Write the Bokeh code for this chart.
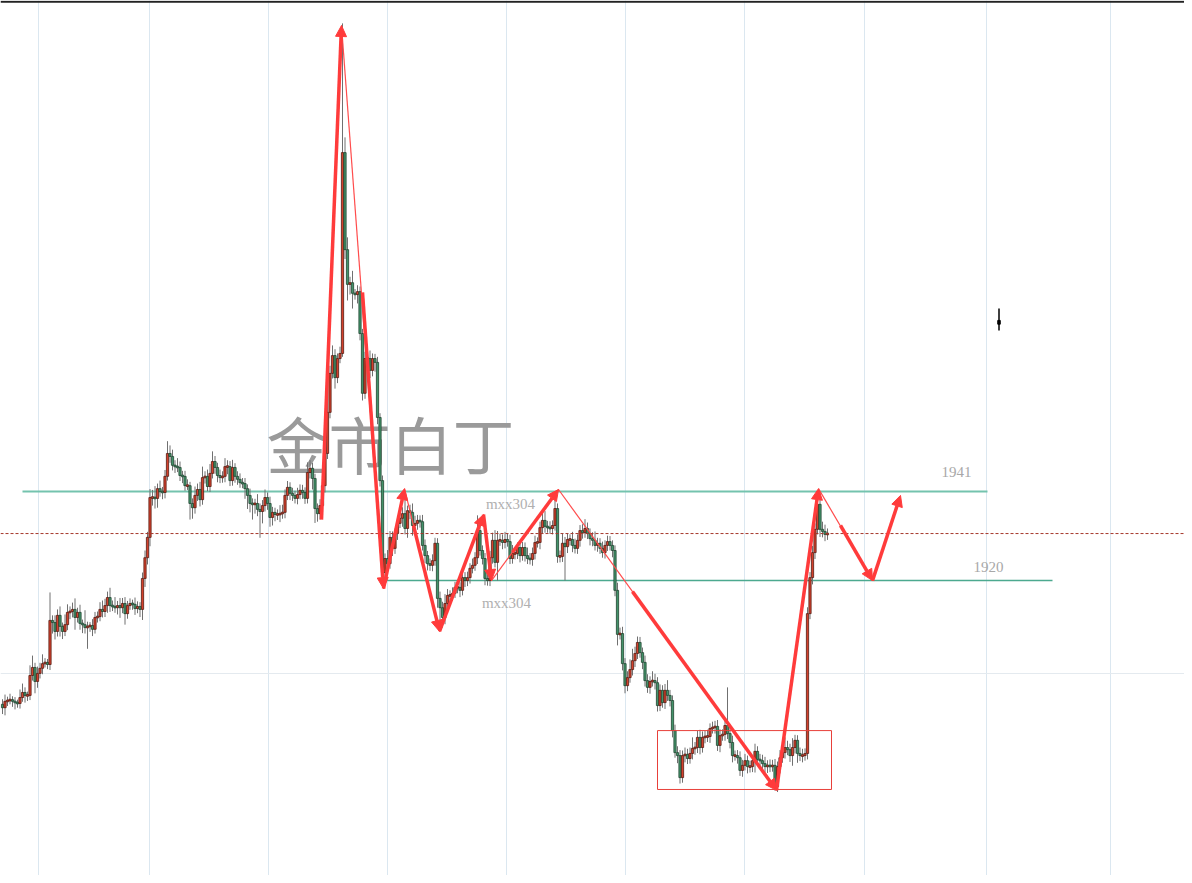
from bokeh.plotting import figure
from bokeh.models import Range1d, FixedTicker, Span, Arrow, NormalHead, ColumnDataSource
from bokeh.core.properties import value
from bokeh.embed import file_html
from bokeh.resources import INLINE

# ---------------- data (price units, one candle per index) ----------------
first_open = 1890.8

closes = [
    # segment A
    1890.0, 1891.5, 1891.7, 1891.9, 1891.5, 1891.2, 1891.0, 1892.4, 1893.6, 1892.9,
    1892.9, 1897.6, 1899.5, 1896.2, 1898.1, 1899.3, 1900.4, 1900.7, 1900.2, 1910.6,
    1910.1, 1908.0, 1911.8, 1909.2, 1908.0, 1909.6, 1912.5, 1912.7, 1913.2, 1911.3,
    1912.5, 1909.9, 1909.6, 1908.9, 1909.2, 1909.4, 1908.5, 1911.3, 1911.5, 1913.2,
    1912.7, 1914.1, 1916.0, 1914.1, 1913.9, 1913.6, 1914.1, 1913.6, 1914.6, 1912.2,
    1914.1, 1914.6, 1914.4, 1913.4, 1913.9, 1913.2, 1920.5, 1925.4, 1930.2, 1939.6,
    1939.6, 1939.4, 1941.7, 1941.0, 1940.8, 1944.6, 1950.0, 1949.3,
    # segment B
    1947.2, 1946.9, 1946.7, 1944.8, 1944.6, 1942.4, 1942.4, 1938.2, 1937.2, 1940.1,
    1941.5, 1939.1, 1944.3, 1944.6, 1942.2, 1945.3, 1948.1, 1946.7, 1944.8, 1944.3,
    1944.6, 1946.9, 1946.9, 1943.6, 1946.7, 1944.6, 1943.9, 1943.1, 1942.9,
    1941.7, 1940.1, 1938.2, 1938.0, 1938.2, 1936.8, 1936.3, 1937.7, 1939.6, 1938.2,
    1934.9, 1936.1, 1935.6, 1935.6, 1935.8, 1936.1, 1940.1, 1942.0, 1940.6, 1940.1,
    1939.4, 1940.3, 1941.3, 1940.8, 1939.4, 1945.5, 1946.5, 1944.1, 1937.0, 1935.8,
    1937.7, 1942.4, 1950.0, 1959.7,
    # segment C (spike)
    1968.9, 1973.1, 1967.9, 1972.4, 1973.6, 2021.0, 1998.1, 1989.9, 1990.3, 1987.8,
    1987.5, 1988.2, 1978.3, 1964.2, 1972.4, 1972.4, 1969.6, 1972.4, 1971.5, 1958.5,
    1943.6, 1921.9,
    # segment D (range)
    1925.2, 1924.0, 1930.2, 1927.6, 1931.1, 1933.5, 1934.7, 1935.8, 1932.3, 1936.5,
    1936.1, 1933.0, 1933.5, 1934.2, 1933.9, 1928.3, 1925.9, 1924.0, 1923.6, 1924.7,
    1928.8, 1915.8, 1913.6, 1911.3, 1914.6, 1916.5, 1916.5, 1917.0, 1918.4, 1918.4,
    1917.7, 1920.7, 1920.0, 1920.7, 1922.9, 1923.6, 1925.4, 1931.8, 1927.1, 1925.2,
    1920.5, 1920.0, 1925.4, 1929.5, 1924.3, 1929.5, 1929.5, 1929.0, 1929.7, 1929.2,
    1925.2, 1926.4, 1926.4, 1927.8, 1925.9, 1927.8, 1925.9, 1925.2, 1925.0, 1926.4,
    1929.0, 1929.0, 1932.5, 1934.2, 1932.8, 1932.5, 1932.3, 1933.0, 1937.0, 1925.7,
    1925.7, 1928.8, 1928.0, 1929.7, 1929.7, 1928.3, 1927.6, 1929.5, 1931.8, 1931.3,
    1932.3, 1931.1, 1929.9, 1929.5, 1928.3, 1928.8, 1927.6, 1926.6, 1928.3, 1929.2,
    1928.3, 1927.1,
    # segment E (drop, base, rally)
    1917.7, 1907.3, 1907.5, 1900.4, 1895.2, 1897.1, 1899.0, 1901.1, 1902.8, 1905.4,
    1903.0, 1900.7, 1896.4, 1894.8, 1896.2, 1896.4, 1895.9, 1890.5, 1894.1, 1891.2,
    1894.1, 1892.9, 1891.7, 1884.6, 1879.4, 1878.7, 1873.5, 1878.7, 1879.0, 1878.0,
    1879.2, 1880.4, 1880.6, 1883.0, 1880.6, 1883.0, 1883.2, 1883.2, 1885.1, 1885.3,
    1885.6, 1881.1, 1883.4, 1883.7, 1885.8, 1883.9, 1881.8, 1878.7, 1878.7, 1878.2,
    1875.2, 1876.4, 1877.5, 1876.1, 1876.1, 1877.5, 1879.7, 1877.8, 1877.5, 1876.8,
    1876.1, 1876.4, 1876.1, 1876.4, 1871.4, 1876.1, 1878.2, 1879.4, 1880.6, 1880.1,
    1878.7, 1880.6, 1882.3, 1879.2, 1878.7, 1878.7, 1879.2, 1912.2, 1920.7, 1926.6,
    1932.1, 1938.0, 1932.1, 1931.6, 1930.9, 1931.1,
]

hi_wick = [
    1.2, 1.6, 0.9, 1.4, 0.8, 1.0, 0.7, 1.9, 2.1, 1.2,
    0.9, 2.4, 2.8, 1.1, 1.6, 1.3, 2.2, 1.0, 0.8, 6.6,
    1.2, 1.7, 1.4, 2.1, 0.9, 2.4, 1.9, 1.2, 1.6, 2.6,
    1.1, 1.8, 0.9, 3.4, 1.1, 0.8, 1.5, 1.3, 1.2, 1.7,
    2.1, 1.6, 1.4, 2.3, 1.2, 2.2, 1.1, 1.8, 1.3, 1.5,
    1.1, 1.2, 0.9, 1.6, 1.2, 1.0, 1.4, 1.7, 1.3, 2.0,
    1.8, 2.7, 1.2, 1.9, 1.1, 1.5, 2.9, 1.9,
    1.6, 1.2, 2.0, 1.4, 1.1, 1.3, 1.5, 0.9, 1.2, 2.1,
    1.4, 1.8, 2.6, 1.2, 1.6, 2.2, 2.4, 1.3, 1.1, 1.4,
    1.2, 2.0, 1.5, 1.3, 1.8, 1.0, 1.2, 1.4, 1.1,
    1.3, 1.0, 1.6, 1.2, 1.1, 2.2, 1.4, 1.3, 1.9, 1.2,
    1.6, 1.3, 1.1, 1.2, 2.0, 1.8, 1.4, 1.5, 1.2, 1.3,
    1.1, 1.6, 1.4, 1.3, 1.2, 2.4, 1.9, 1.3, 1.1, 1.2,
    1.5, 2.2, 1.8, 2.6,
    1.8, 2.4, 1.5, 1.2, 1.6, 30.5, 3.6, 2.9, 1.4, 2.8,
    1.0, 1.5, 1.2, 1.1, 1.6, 1.4, 1.9, 1.2, 1.1, 1.3,
    1.0, 1.2,
    1.2, 2.0, 1.5, 1.4, 1.2, 1.8, 2.4, 1.5, 3.4, 1.2,
    1.4, 2.1, 1.8, 1.3, 1.2, 1.6, 1.4, 1.1, 1.2, 1.5,
    1.3, 1.2, 1.6, 1.4, 2.2, 1.5, 1.2, 1.4, 1.3, 1.6,
    1.2, 1.5, 1.3, 1.4, 1.2, 1.6, 1.3, 3.6, 1.4, 1.2,
    1.3, 1.2, 1.6, 1.8, 2.4, 2.2, 1.6, 1.4, 1.8, 1.3,
    1.6, 2.0, 1.4, 1.2, 1.5, 1.3, 1.2, 1.9, 1.3, 1.4,
    1.6, 1.2, 1.4, 1.8, 2.2, 1.3, 1.5, 1.2, 2.0, 1.2,
    1.4, 2.2, 1.5, 1.3, 1.2, 1.8, 1.6, 1.4, 1.3, 1.5,
    2.2, 1.4, 1.2, 1.5, 2.1, 1.3, 1.2, 1.6, 1.2, 1.4,
    1.3, 1.2,
    1.2, 1.8, 1.4, 1.6, 1.3, 1.5, 2.4, 2.8, 1.6, 1.4,
    1.3, 1.2, 1.6, 1.5, 1.2, 2.2, 1.6, 1.3, 1.4, 1.2,
    1.5, 2.4, 1.3, 1.2, 1.4, 1.5, 1.3, 1.2, 1.6, 1.3,
    1.4, 2.6, 1.3, 1.5, 1.8, 1.4, 1.3, 1.6, 1.2, 1.4,
    1.3, 1.5, 1.5, 1.2, 1.8, 9.0, 1.4, 1.6, 1.2, 1.3,
    1.5, 1.3, 1.6, 1.2, 1.4, 1.3, 1.8, 1.2, 1.3, 1.4,
    1.6, 1.2, 1.4, 1.3, 1.5, 1.2, 1.8, 1.3, 2.4, 1.6,
    1.4, 2.2, 1.3, 1.2, 1.4, 1.6, 1.2, 1.5, 1.3, 1.6,
    1.4, 2.6, 3.0, 1.8, 1.6, 1.2,
]

lo_wick = [
    1.5, 1.8, 1.1, 0.9, 1.3, 1.6, 1.0, 1.2, 1.0, 1.7,
    1.3, 1.1, 1.2, 2.8, 1.5, 1.2, 1.4, 0.9, 1.1, 1.3,
    2.6, 1.9, 1.2, 2.4, 1.8, 1.1, 1.3, 1.6, 1.4, 2.9,
    1.2, 1.5, 2.0, 1.4, 5.0, 1.3, 1.6, 1.0, 1.2, 1.1,
    1.4, 1.3, 1.7, 1.5, 1.1, 1.2, 1.6, 2.4, 1.3, 2.6,
    1.2, 1.0, 1.3, 1.5, 1.1, 1.8, 2.5, 2.0, 1.6, 2.1,
    1.9, 2.4, 2.2, 1.2, 1.6, 1.4, 1.0, 1.5,
    1.2, 1.5, 1.1, 1.3, 1.6, 1.2, 1.0, 3.8, 2.6, 1.4,
    1.3, 1.6, 1.2, 1.4, 1.1, 1.3, 1.2, 1.5, 1.6, 1.3,
    1.2, 1.4, 1.8, 1.3, 1.2, 1.5, 1.3, 1.2, 1.1,
    2.4, 3.2, 2.1, 3.6, 2.2, 1.6, 6.2, 2.8, 1.4, 1.5,
    2.2, 1.9, 1.6, 1.3, 1.8, 1.2, 1.4, 1.1, 1.6, 1.3,
    1.2, 1.4, 1.1, 1.5, 1.3, 1.2, 1.4, 2.6, 3.4, 1.9,
    1.4, 1.2, 1.6, 1.3,
    1.4, 1.2, 2.6, 1.3, 1.1, 0.8, 2.2, 3.8, 2.4, 3.6,
    1.2, 2.1, 1.6, 1.7, 1.3, 2.5, 1.8, 1.4, 2.2, 1.6,
    1.4, 3.3,
    1.4, 1.6, 1.2, 1.8, 1.3, 1.5, 1.1, 2.0, 1.4, 2.2,
    1.6, 2.4, 1.3, 1.5, 1.4, 1.2, 1.8, 1.6, 1.3, 1.4,
    1.2, 2.2, 3.0, 2.4, 1.6, 1.4, 1.2, 1.3, 1.1, 1.4,
    1.6, 1.2, 1.5, 1.3, 1.4, 1.2, 1.3, 1.5, 1.2, 1.4,
    1.6, 1.2, 1.3, 1.4, 1.2, 4.3, 1.3, 1.6, 1.4, 1.2,
    1.3, 1.2, 1.4, 1.3, 1.6, 1.2, 1.4, 1.3, 1.2, 1.5,
    1.4, 1.2, 1.6, 1.3, 1.5, 1.2, 1.3, 1.4, 1.2, 1.5,
    1.4, 1.3, 8.0, 1.5, 1.4, 1.6, 1.2, 1.3, 1.5, 1.4,
    1.2, 1.3, 1.6, 1.4, 1.2, 1.5, 1.3, 1.2, 1.4, 1.3,
    1.2, 1.6,
    1.4, 2.6, 1.2, 1.6, 1.8, 1.3, 1.2, 1.4, 1.5, 1.3,
    1.2, 1.6, 1.4, 1.3, 1.5, 1.2, 1.6, 1.4, 1.3, 1.2,
    1.5, 1.3, 1.4, 1.6, 1.2, 1.8, 1.4, 1.2, 1.6, 1.3,
    1.2, 1.4, 1.5, 1.3, 1.6, 1.2, 1.4, 1.3, 1.5, 1.2,
    1.4, 1.3, 1.6, 1.2, 1.5, 1.3, 1.4, 1.6, 1.2, 1.4,
    1.3, 1.5, 1.2, 1.6, 1.4, 1.3, 2.8, 1.4, 1.2, 1.6,
    1.4, 1.5, 1.3, 1.2, 1.0, 1.3, 1.6, 1.2, 1.4, 1.3,
    1.5, 2.4, 1.4, 2.2, 1.3, 1.6, 1.2, 1.4, 1.3, 1.6,
    1.5, 1.2, 1.8, 1.4, 1.6, 1.3,
]

# levels and annotations
level_hi = 1941
level_lo = 1920
level_hi_span = [8.0, 394.0]
level_lo_span = [152.4, 420.0]
grid_x = [14.4, 58.8, 106.4, 154.0, 201.6, 249.2, 296.8, 344.8, 393.6, 443.2]
grid_y = [1898.1]
top_edge = 2056.6

# thick arrows: start -> end (index, price)
arr_x0 = [127.6, 144.0, 152.4, 164.4, 174.8, 192.4, 204.0, 252.0, 309.6, 335.2, 348.0]
arr_y0 = [1934.4, 1988.0, 1918.1, 1933.0, 1908.0, 1935.6, 1926.7, 1917.4, 1870.5, 1933.0, 1920.0]
arr_x1 = [135.6, 152.4, 160.8, 174.8, 192.4, 195.6, 222.4, 309.6, 326.4, 348.0, 359.2]
arr_y1 = [2051.0, 1918.1, 1941.7, 1908.0, 1935.6, 1920.0, 1941.5, 1870.5, 1941.7, 1920.0, 1940.1]
# thin connecting lines
thin_x0 = [135.6, 160.8, 195.6, 222.4, 326.4]
thin_y0 = [2051.0, 1941.7, 1920.0, 1941.5, 1941.7]
thin_x1 = [152.4, 174.8, 222.4, 309.6, 348.0]
thin_y1 = [1918.1, 1908.0, 1941.5, 1870.5, 1920.0]

box = dict(left=262.0, right=331.6, top=1884.6, bottom=1870.7)

level_labels = ["1941", "1920"]
level_label_x = [381.6, 394.4]
level_label_y = [1945.7, 1923.3]
tag_labels = ["mxx304", "mxx304"]
tag_x = [203.2, 201.6]
tag_y = [1938.0, 1914.8]
watermark = "金市白丁"
watermark_pos = (155.2, 1952.4)

stray_x = [398.6]
stray_hi = [1984.2]
stray_lo = [1979.0]
stray_top = [1981.4]
stray_bot = [1980.5]

# ---------------- build ----------------
n = len(closes)
if len(hi_wick) != n or len(lo_wick) != n:
    raise ValueError(f"lengths {n} {len(hi_wick)} {len(lo_wick)}")
opens = [first_open] + closes[:-1]
xs = list(range(n))
highs = [max(o, c) + h for o, c, h in zip(opens, closes, hi_wick)]
lows = [min(o, c) - l for o, c, l in zip(opens, closes, lo_wick)]
tops, bots, fills, lines = [], [], [], []
for o, c in zip(opens, closes):
    t, b = max(o, c), min(o, c)
    if t - b < 0.4:
        m = (t + b) / 2
        t, b = m + 0.2, m - 0.2
    tops.append(t)
    bots.append(b)
    if c >= o:
        fills.append("#d3412c"); lines.append("#561b12")
    else:
        fills.append("#43936a"); lines.append("#1f4430")

src = ColumnDataSource(dict(x=xs, high=highs, low=lows, top=tops, bottom=bots,
                            fill=fills, line=lines))

p = figure(width=1184, height=875, output_backend="svg", toolbar_location=None,
           x_range=Range1d(-0.8, 472.8), y_range=Range1d(1850.4, 2056.9),
           min_border=0)
p.xaxis.visible = False
p.yaxis.visible = False
p.outline_line_color = None
p.background_fill_color = "white"
p.border_fill_color = "white"
p.xgrid.ticker = FixedTicker(ticks=grid_x)
p.ygrid.ticker = FixedTicker(ticks=grid_y)
p.xgrid.grid_line_color = "#dbe7f0"
p.ygrid.grid_line_color = "#e4eaef"
p.xgrid.grid_line_width = 1
p.ygrid.grid_line_width = 1

# top border
p.add_layout(Span(location=top_edge, dimension="width", line_color="#222222", line_width=2))

# watermark
p.text(x=[watermark_pos[0]], y=[watermark_pos[1]], text=[watermark],
       text_font=value("Noto Sans CJK SC"), text_font_size="62px",
       text_color="#9a9a9a", text_align="center", text_baseline="middle")

# levels
p.line(level_hi_span, [level_hi, level_hi], line_color="#74c3ae", line_width=2)
p.line(level_lo_span, [level_lo, level_lo], line_color="#4ca98f", line_width=1.5)

# current price line
p.add_layout(Span(location=closes[-1], dimension="width", line_color="#a5372b",
                  line_dash="3 2", line_width=1))

# candles
p.segment(x0="x", y0="high", x1="x", y1="low", source=src, line_color="#707070", line_width=1)
p.vbar(x="x", width=0.9, top="top", bottom="bottom", source=src,
       fill_color="fill", line_color="line", line_width=0.8)

# stray tick on the right
p.segment(x0=stray_x, y0=stray_hi, x1=stray_x, y1=stray_lo, line_color="black", line_width=1.5)
p.vbar(x=stray_x, width=1.0, top=stray_top, bottom=stray_bot, fill_color="black", line_color="black")

# box
p.quad(left=[box["left"]], right=[box["right"]], top=[box["top"]], bottom=[box["bottom"]],
       fill_alpha=0, line_color="#e8403a", line_width=1)

RED = "#ff3b3b"
p.segment(x0=thin_x0, y0=thin_y0, x1=thin_x1, y1=thin_y1, line_color="#ff4c4c", line_width=1.2)
for x0, y0, x1, y1 in zip(arr_x0, arr_y0, arr_x1, arr_y1):
    p.add_layout(Arrow(end=NormalHead(size=11, fill_color=RED, line_color=RED, line_width=1),
                       x_start=x0, y_start=y0, x_end=x1, y_end=y1,
                       line_color=RED, line_width=3.5))

# labels
p.text(x=level_label_x, y=level_label_y, text=level_labels,
       text_font=value("Liberation Serif"), text_font_size="15px",
       text_color="#a8a8a8", text_align="center", text_baseline="middle")
p.text(x=tag_x, y=tag_y, text=tag_labels,
       text_font=value("Liberation Serif"), text_font_size="15px",
       text_color="#b0b0b0", text_align="center", text_baseline="middle")

open("out.html", "w").write(file_html(p, INLINE))
